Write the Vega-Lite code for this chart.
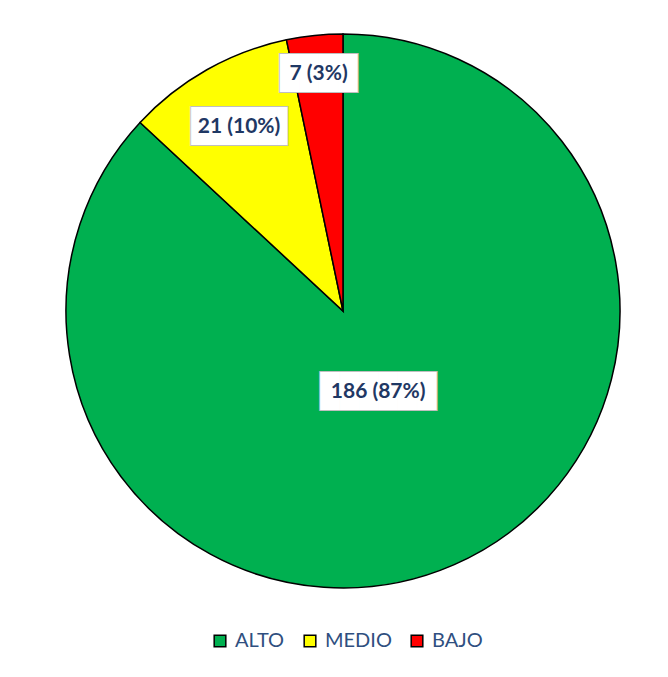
{
  "$schema": "https://vega.github.io/schema/vega-lite/v6.json",
  "width": 650,
  "height": 622,
  "autosize": {"type": "none"},
  "padding": {"left": 18, "top": 0, "right": 0, "bottom": 55},
  "background": "white",
  "config": {"view": {"stroke": null}},
  "data": {
    "values": [
      {"nivel": "ALTO", "n": 186, "etiqueta": "186 (87%)", "orden": 1},
      {"nivel": "MEDIO", "n": 21, "etiqueta": "21 (10%)", "orden": 2},
      {"nivel": "BAJO", "n": 7, "etiqueta": "7 (3%)", "orden": 3}
    ]
  },
  "encoding": {
    "theta": {"field": "n", "type": "quantitative", "stack": true},
    "order": {"field": "orden", "type": "quantitative"}
  },
  "layer": [
    {
      "mark": {"type": "arc", "outerRadius": 277, "stroke": "black", "strokeWidth": 1.5},
      "encoding": {
        "color": {
          "field": "nivel",
          "type": "nominal",
          "scale": {"domain": ["ALTO", "MEDIO", "BAJO"], "range": ["#00b050", "#ffff00", "#ff0000"]},
          "legend": {
            "title": null,
            "orient": "none",
            "legendX": 192,
            "legendY": 631,
            "direction": "horizontal",
            "symbolType": "square",
            "symbolSize": 135,
            "symbolStrokeColor": "black",
            "symbolStrokeWidth": 1.5,
            "symbolOpacity": 1,
            "labelFont": "Lato",
            "labelFontSize": 20,
            "labelColor": "#2f4f80",
            "labelOffset": 5,
            "columnPadding": 15
          }
        }
      }
    },
    {
      "transform": [{"calculate": "datum.nivel == 'ALTO' ? '██████' : datum.nivel == 'MEDIO' ? '▐████▌' : '████'", "as": "caja"}],
      "mark": {"type": "text", "font": "DejaVu Sans Mono", "fontSize": 32, "fill": "white", "stroke": "#bfbfbf", "strokeWidth": 2, "align": "center", "baseline": "middle"},
      "encoding": {
        "text": {"field": "caja"},
        "radius": {"field": "n", "type": "quantitative", "scale": {"type": "sqrt", "zero": false, "domain": [7, 186], "range": [238, 88]}, "legend": null}
      }
    },
    {
      "transform": [{"calculate": "datum.nivel == 'ALTO' ? '██████' : datum.nivel == 'MEDIO' ? '▐████▌' : '████'", "as": "caja"}],
      "mark": {"type": "text", "font": "DejaVu Sans Mono", "fontSize": 32, "fill": "white", "align": "center", "baseline": "middle"},
      "encoding": {
        "text": {"field": "caja"},
        "radius": {"field": "n", "type": "quantitative", "legend": null}
      }
    },
    {
      "mark": {"type": "text", "font": "Lato", "fontSize": 21, "fontWeight": "bold", "fill": "#1f3864", "align": "center", "baseline": "middle"},
      "encoding": {
        "text": {"field": "etiqueta"},
        "radius": {"field": "n", "type": "quantitative", "legend": null}
      }
    }
  ]
}
